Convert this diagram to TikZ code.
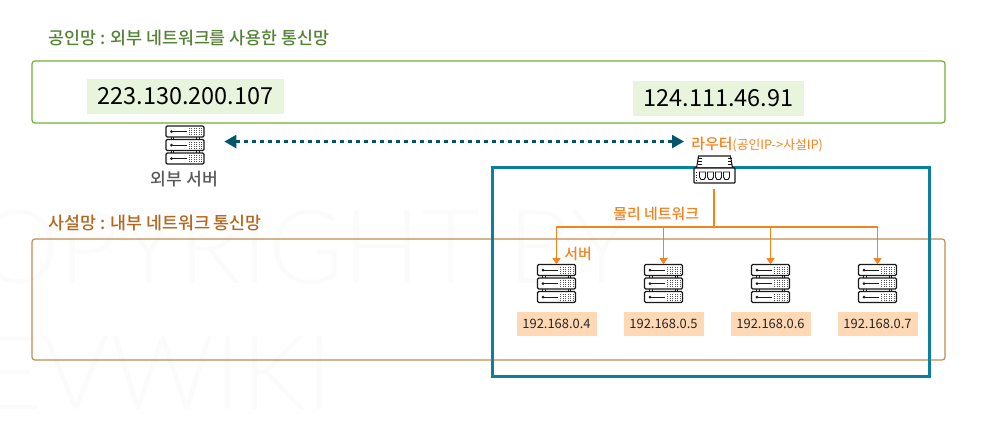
\documentclass[tikz,border=0pt]{standalone}
\usepackage{fontspec}
\setmainfont{Noto Sans CJK KR Medium}
\newfontfamily\regfont{Noto Sans CJK KR}
\newfontfamily\wmfont{Lato Light}
\usetikzlibrary{arrows.meta}
\definecolor{greenline}{HTML}{70AD2F}
\definecolor{greentext}{HTML}{548235}
\definecolor{greenfill}{HTML}{E9F4DD}
\definecolor{brownline}{HTML}{C08A50}
\definecolor{browntext}{HTML}{B5651D}
\definecolor{tealline}{HTML}{0B7FA0}
\definecolor{darkteal}{HTML}{01566B}
\definecolor{orangeline}{HTML}{F5821F}
\definecolor{orangefill}{HTML}{FFD9B5}
\definecolor{graytext}{HTML}{595959}
\definecolor{wmgray}{HTML}{FBFBFB}
\definecolor{icon}{HTML}{1A1A1A}
\definecolor{icondot}{HTML}{555555}
\tikzset{
  x=0.75pt,y=-0.75pt,
  areabox/.style={draw,rounded corners=2.2pt,line width=0.9pt,inner sep=0pt,minimum width=913*0.75pt},
  ipbox/.style={fill=greenfill,inner sep=0pt,minimum height=35*0.75pt,font=\regfont\fontsize{17.6pt}{20pt}\selectfont,text=black},
  lanbox/.style={fill=orangefill,inner sep=0pt,minimum width=80*0.75pt,minimum height=24*0.75pt,font=\regfont\fontsize{9.7pt}{12pt}\selectfont,text=black!85},
  titlelabel/.style={inner sep=0pt,anchor=west,font=\fontsize{13pt}{15pt}\selectfont},
  orangelabel/.style={inner sep=0pt,anchor=west,text=orangeline,font=\fontsize{11.2pt}{15pt}\selectfont},
  iconnode/.style={inner sep=0pt,minimum width=38*0.75pt,minimum height=38*0.75pt},
  orangewire/.style={draw=orangeline,line width=1.05pt},
  drop/.style={orangewire,-{Triangle[length=4.6pt,width=6pt]}},
  rack/.pic={
    \draw[icon,fill=white,line width=0.95pt,rounded corners=1pt] (-19,-5.5) rectangle (19,5.5);
    \fill[icon] (-13.5,0) circle (1.5);
    \draw[icon,line width=0.65pt] (-13,0) -- (1.5,0);
    \foreach \gx in {4,6.5,9,11.5,14,16.5}
      \foreach \gy in {-3,-1,1,3}
        \fill[icondot] (\gx-0.45,\gy-0.45) rectangle (\gx+0.45,\gy+0.45);
  },
  serverpic/.pic={
    \foreach \sx in {-14,-11.5,11.5,14}
      \draw[icon,line width=0.6pt] (\sx,-13) -- (\sx,13);
    \pic at (0,-13.5) {rack};
    \pic at (0,0) {rack};
    \pic at (0,13.5) {rack};
  },
  routerpic/.pic={
    \draw[icon,fill=white,line width=0.8pt] (-18,-1.5) -- (-16,-13.5) -- (16,-13.5) -- (18,-1.5) -- cycle;
    \foreach \ry in {-11,-8,-5}{
      \draw[icon,line width=0.55pt] (-17,\ry) -- (-13,\ry);
      \draw[icon,line width=0.55pt] (17,\ry) -- (13,\ry);
    }
    \draw[icon,fill=white,line width=1pt,rounded corners=0.6pt] (-20.5,-1.5) rectangle (20.5,13.5);
    \foreach \rx in {-12,-4,4,12}
      \draw[icon,fill=white,line width=0.7pt] (\rx-3,2.5) -- (\rx+3,2.5) -- (\rx+3,7.5) -- (\rx+1.5,10) -- (\rx-1.5,10) -- (\rx-3,7.5) -- cycle;
    \foreach \ry in {3,5.5,8,10.5}
      \fill[icon] (-18.5,\ry-0.5) rectangle (-17.5,\ry+0.5);
  }
}
\begin{document}
\begin{tikzpicture}
\useasboundingbox (0,0) rectangle (986,430);
\begin{scope}
\clip (0,0) rectangle (986,430);
\node[inner sep=0pt,anchor=base west,text=wmgray,font=\wmfont\fontsize{77pt}{90pt}\selectfont] (wma) at (-90,283) {COPYRIGHT BY};
\node[inner sep=0pt,anchor=base west,text=wmgray,font=\wmfont\fontsize{77pt}{90pt}\selectfont] (wmb) at (-95,409) {DEVWIKI};
\end{scope}

\node[titlelabel,text=greentext] (pubtitle) at (48,38) {공인망 : 외부 네트워크를 사용한 통신망};
\node[areabox,draw=greenline,minimum height=62*0.75pt] (pubarea) at (488.5,92) {};
\node[ipbox,minimum width=197*0.75pt] (ipa) at (185.5,96.5) {223.130.200.107};
\node[ipbox,minimum width=171*0.75pt] (ipb) at (718.5,98.5) {124.111.46.91};

\node[titlelabel,text=browntext] (privtitle) at (48,223) {사설망 : 내부 네트워크 통신망};
\node[areabox,draw=brownline,minimum height=121*0.75pt] (privarea) at (488.5,299.5) {};
\node[draw=tealline,line width=2pt,inner sep=0pt,minimum width=437*0.75pt,minimum height=209*0.75pt] (lan) at (711,272) {};

\node[iconnode] (ext) at (185,145) {};
\pic at (ext) {serverpic};
\node[inner sep=0pt,text=graytext,font=\fontsize{12.9pt}{15pt}\selectfont] (extlabel) at (184.5,179) {외부 서버};

\node[orangelabel] (rlabel) at (691,145) {라우터{\regfont\fontsize{9.6pt}{12pt}\selectfont(공인IP->사설IP)}};
\node[inner sep=0pt,minimum width=41*0.75pt,minimum height=27*0.75pt] (router) at (714.5,169.5) {};
\pic at (router) {routerpic};

\draw[darkteal,line width=2.6pt,dash pattern=on 3pt off 3pt,shorten <=15pt,shorten >=5.2pt,
  {Triangle[length=9pt,width=9.5pt]}-{Triangle[length=9pt,width=9.5pt]}]
  ([yshift=2.6pt]ext.east) -- ([yshift=2.6pt]rlabel.west);

\node[orangelabel] (netlabel) at (613,214) {물리 네트워크};
\node[orangelabel] (srvlabel) at (564,254) {서버};

\foreach \n/\cx/\ip in {s1/556.5/192.168.0.4,s2/663.5/192.168.0.5,s3/770.5/192.168.0.6,s4/877.5/192.168.0.7}{
  \node[iconnode] (\n) at (\cx,283.5) {};
  \pic at (\n) {serverpic};
  \node[lanbox] (\n ip) at (\cx,324) {\ip};
}
\coordinate (bus) at (714,227);
\draw[orangewire,shorten <=4.5pt] (router.south -| bus) -- (bus);
\draw[drop] (bus) -| (s1.north);
\draw[drop] (bus) -| (s2.north);
\draw[drop] (bus) -| (s3.north);
\draw[drop] (bus) -| (s4.north);
\end{tikzpicture}
\end{document}
